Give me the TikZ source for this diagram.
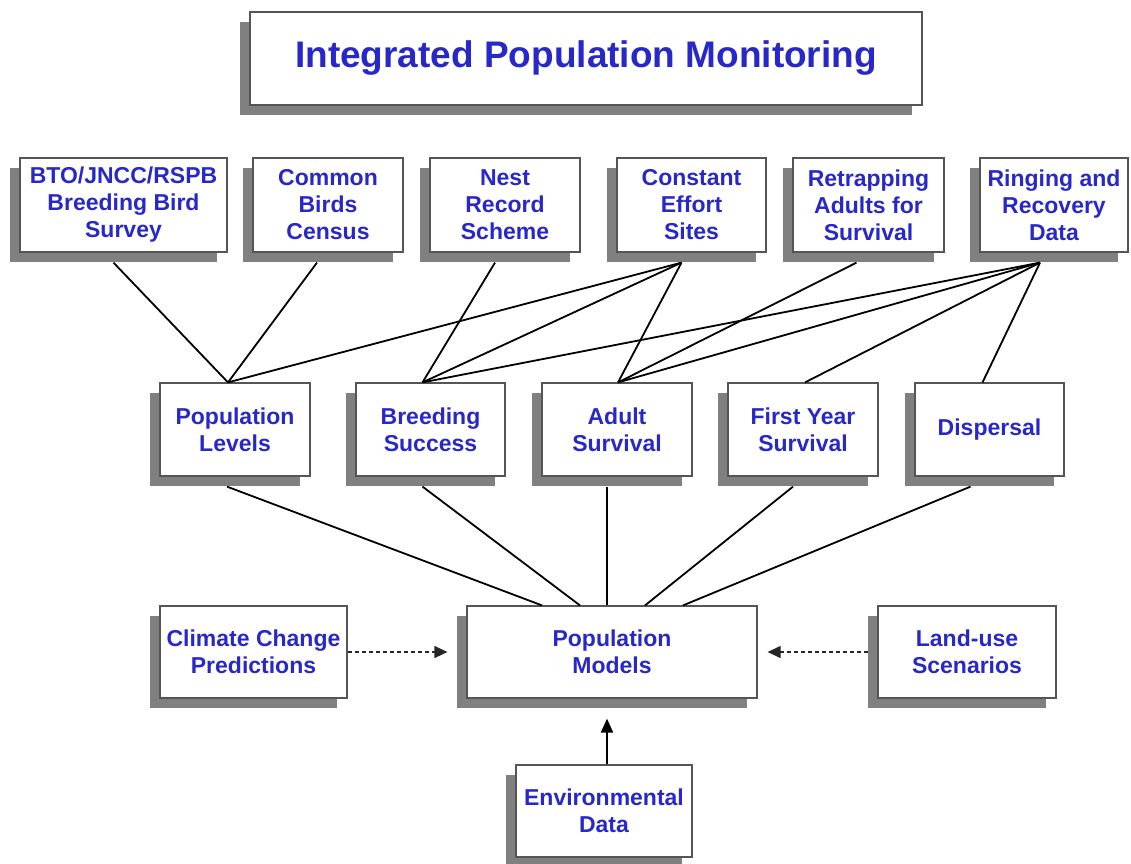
\documentclass[tikz,border=0pt]{standalone}
\usepackage{fontspec}
\setmainfont{Liberation Sans}
\usetikzlibrary{shadows,arrows.meta}
\definecolor{txtblue}{RGB}{40,40,200}
\definecolor{shadowgray}{RGB}{128,128,128}
\definecolor{edgegray}{RGB}{85,85,85}
\tikzset{
  box/.style={draw=edgegray, line width=1.2pt, fill=white, text=txtblue,
    align=center, inner sep=0pt,
    font=\fontsize{23}{27}\selectfont\bfseries,
    drop shadow={shadow xshift=-10pt, shadow yshift=-10pt, fill=shadowgray, opacity=1}},
  link/.style={line width=1.8pt, black},
  dashlink/.style={line width=1.2pt, black!85, dash pattern=on 4pt off 3pt,
    -{Triangle[length=13pt,width=12pt]}},
  uplink/.style={line width=2pt, black, -{Triangle[length=14pt,width=12pt]}}
}
\begin{document}
\begin{tikzpicture}[x=1pt,y=-1pt]
\useasboundingbox (0,0) rectangle (1131,863);
% title
\node[box, minimum width=672pt, minimum height=93pt, font=\fontsize{37}{40}\selectfont\bfseries] (title) at (586,58.5) {Integrated Population Monitoring};
% top row
\node[box, minimum width=207pt, minimum height=94pt] (bto) at (123.5,205) {BTO/JNCC/RSPB\\Breeding Bird\\Survey};
\node[box, minimum width=150pt, minimum height=94pt] (cbc) at (328,205) {Common\\Birds\\Census};
\node[box, minimum width=150pt, minimum height=94pt] (nest) at (505,205) {Nest\\Record\\Scheme};
\node[box, minimum width=149pt, minimum height=94pt] (ces) at (691.5,205) {Constant\\Effort\\Sites};
\node[box, minimum width=151pt, minimum height=94pt] (retr) at (868.5,205) {Retrapping\\Adults for\\Survival};
\node[box, minimum width=148pt, minimum height=94pt] (ring) at (1054,205) {Ringing and\\Recovery\\Data};
% middle row
\node[box, minimum width=150pt, minimum height=93pt] (pl) at (235,429.5) {Population\\Levels};
\node[box, minimum width=149pt, minimum height=93pt] (bs) at (430.5,429.5) {Breeding\\Success};
\node[box, minimum width=150pt, minimum height=93pt] (as) at (617,429.5) {Adult\\Survival};
\node[box, minimum width=150pt, minimum height=93pt] (fy) at (803,429.5) {First Year\\Survival};
\node[box, minimum width=149pt, minimum height=93pt] (dis) at (989.5,429.5) {Dispersal};
% bottom row
\node[box, minimum width=187pt, minimum height=92pt] (cc) at (253.5,652) {Climate Change\\Predictions};
\node[box, minimum width=290pt, minimum height=92pt] (pm) at (612,652) {Population\\Models};
\node[box, minimum width=178pt, minimum height=92pt] (lu) at (967,652) {Land-use\\Scenarios};
\node[box, minimum width=176pt, minimum height=92pt] (env) at (604,811) {Environmental\\Data};
% top -> middle connectors
\draw[link] ([shift={(-10,10)}]bto.south) -- ([shift={(-7,0)}]pl.north);
\draw[link] ([shift={(-11,10)}]cbc.south) -- ([shift={(-7,0)}]pl.north);
\draw[link] ([shift={(-10,10)}]nest.south) -- ([shift={(-8,0)}]bs.north);
\draw[link] ([shift={(-10,10)}]ces.south) -- ([shift={(-7,0)}]pl.north);
\draw[link] ([shift={(-10,10)}]ces.south) -- ([shift={(-8,0)}]bs.north);
\draw[link] ([shift={(-10,10)}]ces.south) -- ([shift={(1,0)}]as.north);
\draw[link] ([shift={(-12,10)}]retr.south) -- ([shift={(1,0)}]as.north);
\draw[link] ([shift={(-14,10)}]ring.south) -- ([shift={(-8,0)}]bs.north);
\draw[link] ([shift={(-14,10)}]ring.south) -- ([shift={(1,0)}]as.north);
\draw[link] ([shift={(-14,10)}]ring.south) -- ([shift={(2,0)}]fy.north);
\draw[link] ([shift={(-14,10)}]ring.south) -- ([shift={(-7,0)}]dis.north);
% middle -> models
\draw[link] ([shift={(-8,10)}]pl.south) -- ([shift={(-70,0)}]pm.north);
\draw[link] ([shift={(-8,10)}]bs.south) -- ([shift={(-32,0)}]pm.north);
\draw[link] ([shift={(-10,10)}]as.south) -- ([shift={(-5,0)}]pm.north);
\draw[link] ([shift={(-10,10)}]fy.south) -- ([shift={(33,0)}]pm.north);
\draw[link] ([shift={(-19,10)}]dis.south) -- ([shift={(71,0)}]pm.north);
% dashed arrows
\draw[dashlink] (cc.east) -- ([shift={(-19,0)}]pm.west);
\draw[dashlink] ([shift={(-9,0)}]lu.west) -- ([shift={(10,0)}]pm.east);
% environmental data
\draw[uplink] ([shift={(3,0)}]env.north) -- ([shift={(-5,20)}]pm.south);
\end{tikzpicture}
\end{document}
